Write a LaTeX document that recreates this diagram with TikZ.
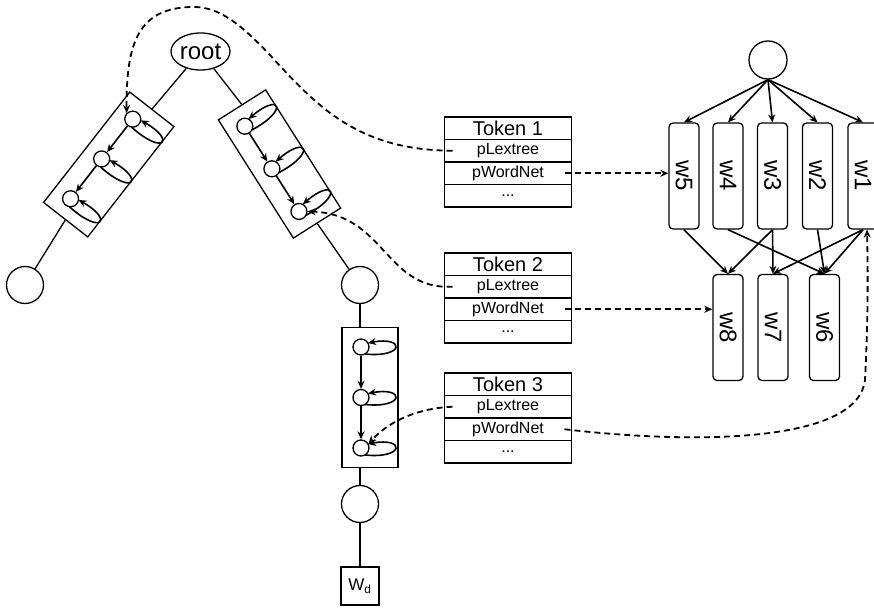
\documentclass[tikz,border=0pt]{standalone}
\usepackage{fontspec}
\setmainfont{Liberation Sans}
\usepackage{graphicx}
\usetikzlibrary{arrows.meta,positioning,shapes.geometric}

\tikzset{
  hstate/.style={draw, circle, minimum size=16pt, inner sep=0pt},
  leaf/.style={draw, circle, minimum size=37pt, inner sep=0pt},
  chainbox/.style={draw, minimum width=56pt, minimum height=140pt, inner sep=0pt},
  cell/.style={draw, minimum width=127pt, minimum height=22.5pt, inner sep=0pt,
               outer sep=0pt, font=\fontsize{16}{16}\selectfont},
  word/.style={draw, rounded corners=4pt, minimum width=30pt, minimum height=106pt,
               inner sep=0pt, font=\fontsize{24}{24}\selectfont},
  ptr/.style={->, line width=1.8pt, dash pattern=on 6pt off 4pt},
  link/.style={->, line width=1.6pt},
}

\begin{document}
\begin{tikzpicture}[x=1pt, y=-1pt, line width=1.3pt, >={Stealth[length=8pt,width=7pt]}]
  \useasboundingbox (0,0) rectangle (874,609);
  \clip (0,0) rectangle (874,609);

  % lexical tree
  \node[draw, ellipse, minimum width=59pt, minimum height=37pt, inner sep=0pt,
        font=\fontsize{24}{24}\selectfont] (root) at (200.5,51.5) {root};

  % left branch
  \begin{scope}[shift={(108.75,164.5)}, rotate=-38]
    \node[chainbox, transform shape] (boxA) at (0,0) {};
    \node[hstate] (a1) at (-9,-50.5) {};
    \node[hstate] (a2) at (-9,0) {};
    \node[hstate] (a3) at (-9,50.5) {};
    \foreach \y in {-50.5,0,50.5}
      \draw[link] (-5,\y+7) .. controls (38,\y+10) and (38,\y-10) .. (-2,\y-4);
    \draw[link] (a1) -- (a2);
    \draw[link] (a2) -- (a3);
  \end{scope}

  % right branch
  \begin{scope}[shift={(279.5,164)}, rotate=32.4]
    \node[chainbox, transform shape] (boxB) at (0,0) {};
    \node[hstate] (b1) at (-9,-50.5) {};
    \node[hstate] (b2) at (-9,0) {};
    \node[hstate] (b3) at (-9,50.5) {};
    \foreach \y in {-50.5,0,50.5}
      \draw[link] (-5,\y+7) .. controls (38,\y+10) and (38,\y-10) .. (-2,\y-4);
    \draw[link] (b1) -- (b2);
    \draw[link] (b2) -- (b3);
  \end{scope}

  % lower chain
  \begin{scope}[shift={(370,397.5)}]
    \node[chainbox] (boxC) at (0,0) {};
    \node[hstate] (c1) at (-9,-50.5) {};
    \node[hstate] (c2) at (-9,0) {};
    \node[hstate] (c3) at (-9,50.5) {};
    \foreach \y in {-50.5,0,50.5}
      \draw[link] (-5,\y+7) .. controls (35,\y+11) and (35,\y-11) .. (-2,\y-4);
    \draw[link] (c1) -- (c2);
    \draw[link] (c2) -- (c3);
  \end{scope}

  \node[leaf] (cA) at (25,285) {};
  \node[leaf] (cB) at (360,285) {};
  \node[leaf] (cC) at (360,504) {};
  \node[draw, minimum size=38pt, inner sep=0pt, font=\fontsize{17}{17}\selectfont]
       (wd) at (360,586) {W\textsubscript{d}};

  \draw (root) -- (boxA.north);
  \draw (root) -- (boxB.north);
  \draw (boxA.south) -- (cA);
  \draw (boxB.south) -- (cB);
  \draw (cB) -- (cB |- boxC.north);
  \draw (cB |- boxC.south) -- (cC);
  \draw (cC) -- (wd);

  % token records
  \foreach \i/\y in {1/117, 2/253, 3/373} {
    \node[cell, anchor=north, font=\fontsize{20}{20}\selectfont] (tok\i) at (508,\y) {Token \i};
    \node[cell, below=0pt of tok\i] (tok\i-lex) {pLextree};
    \node[cell, below=0pt of tok\i-lex] (tok\i-wn) {pWordNet};
    \node[cell, below=0pt of tok\i-wn] (tok\i-dots) {...};
    \coordinate (tok\i-l) at ([xshift=8pt]tok\i-lex.west);
    \coordinate (tok\i-r) at ([xshift=-7pt]tok\i-wn.east);
  }

  % word net
  \node[draw, circle, minimum size=38pt, inner sep=0pt] (wroot) at (768,60) {};
  \foreach \n/\x in {5/684, 4/728, 3/772.5, 2/817.5, 1/863}
    \node[word] (w\n) at (\x,176) {\rotatebox{-90}{w\n}};
  \foreach \n/\x in {8/728, 7/773, 6/824.5}
    \node[word] (w\n) at (\x,327.5) {\rotatebox{-90}{w\n}};
  \foreach \n in {5,4,3,2,1}
    \draw[link] (wroot.south) -- (w\n.north);
  \foreach \a/\b in {5/8, 3/8, 3/7, 4/6, 2/6, 1/7, 1/6}
    \draw[link] (w\a.south) -- (w\b.north);

  % pointers
  \draw[ptr] (tok1-l) .. controls (360,150) and (320,110) .. (270,55)
             .. controls (235,18) and (215,6) .. (190,7)
             .. controls (140,9) and (126,40) .. (a1.135);
  \draw[ptr] (tok2-l) .. controls (385,290) and (385,214) .. (b3.east);
  \draw[ptr] (tok3-l) .. controls (420,408) and (390,420) .. (c3.30);
  \draw[ptr] (tok1-r) -- (tok1-r -| w5.west);
  \draw[ptr] (tok2-r) -- (tok2-r -| w8.west);
  \draw[ptr] (tok3-r) .. controls (700,445) and (858,442) .. (865,380)
             .. controls (868,320) and (868,280) .. ([xshift=4pt]w1.south);
\end{tikzpicture}
\end{document}
